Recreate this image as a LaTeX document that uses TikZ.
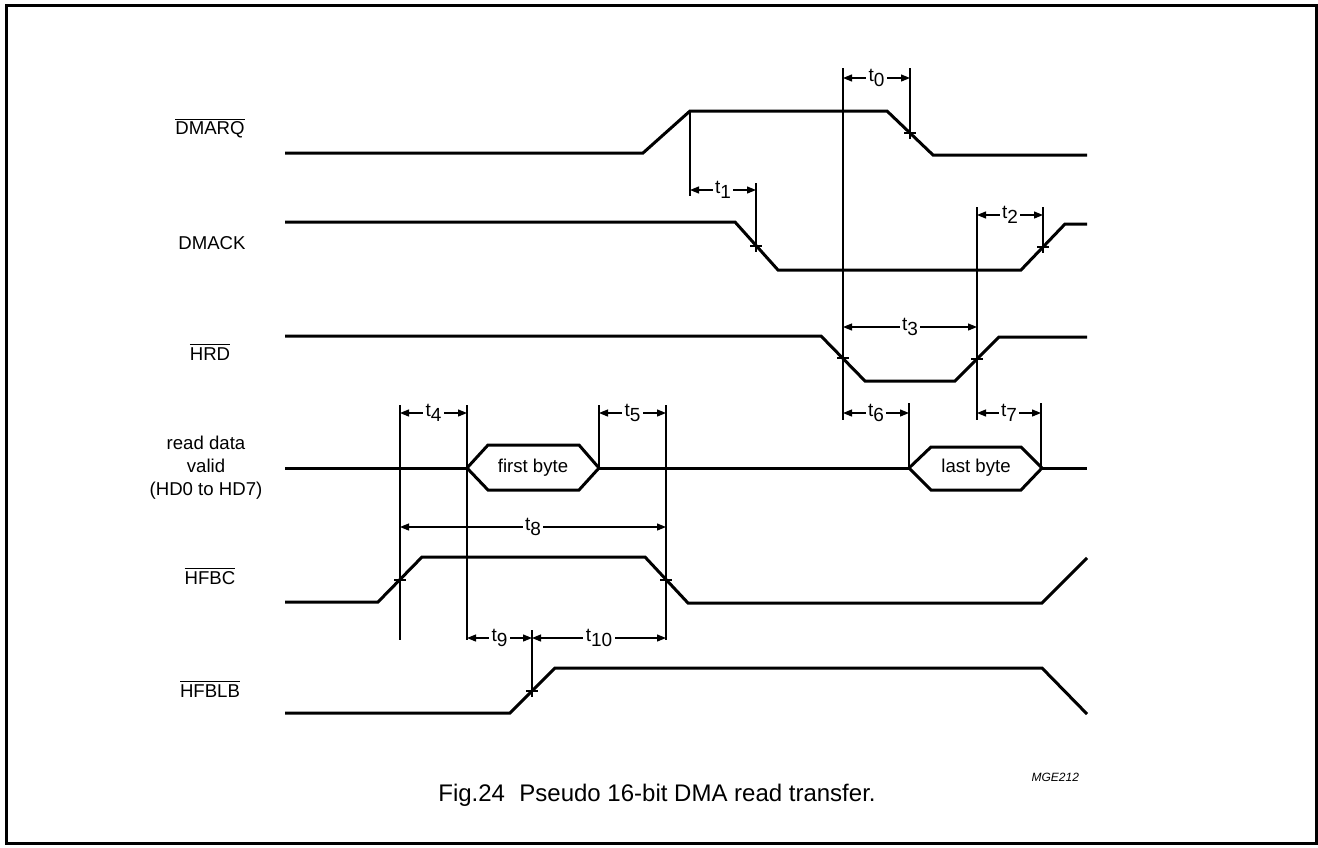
\documentclass[tikz,border=0pt]{standalone}
\usepackage{fontspec}
\setmainfont{Liberation Sans}
\usetikzlibrary{arrows.meta}

\newcommand{\tsub}[1]{t\raisebox{-0.5ex}{#1}}
\newcommand{\crossat}[1]{\draw[guide] ([xshift=-3pt]#1) -- ([xshift=3pt]#1);}

\begin{document}
\begin{tikzpicture}[x=0.5pt,y=-0.5pt,
	sig/.style={line width=1.5pt},
	guide/.style={line width=0.6pt},
	dim/.style={line width=0.6pt,{Triangle[length=4.5pt,width=3.5pt]}-{Triangle[length=4.5pt,width=3.5pt]}},
	tlab/.style={fill=white,inner sep=1.2pt,font=\fontsize{9.5}{11}\selectfont},
	sname/.style={font=\fontsize{9.3}{11.5}\selectfont,align=center}]
			\useasboundingbox (0,0) rectangle (1318,847);
			\draw[line width=1.5pt] (6,5) rectangle (1316,843);
			% signal names
			\node[sname] (lDMARQ) at (210,128) {$\overline{\mbox{DMARQ}}$};
			\node[sname] (lDMACK) at (212,243) {DMACK};
			\node[sname] (lHRD) at (210,352) {$\overline{\mbox{HRD}}$};
			\node[sname] (lDATA) at (206,468) {read data\\valid\\(HD0 to HD7)};
			\node[sname] (lHFBC) at (210,576) {$\overline{\mbox{HFBC}}$};
			\node[sname] (lHFBLB) at (210,689) {$\overline{\mbox{HFBLB}}$};
			% waveforms
			\draw[sig] (285,153) -- (643,153) -- (690,111) -- (887,111) -- (933,155) -- (1087,155);
			\draw[sig] (285,222) -- (735,222) -- (778,270) -- (1021,270) -- (1065,224) -- (1087,224);
			\draw[sig] (285,336) -- (821,336) -- (865,381) -- (955,381) -- (999,337) -- (1087,337);
			\draw[sig] (285,468) -- (467,468);
			\draw[sig] (467,468) -- (488,445) -- (579,445) -- (599,468) -- (579,490) -- (488,490) -- cycle;
			\node (first) at (533,468) {\fontsize{9.3}{11}\selectfont first byte};
			\draw[sig] (599,468) -- (909,468);
			\draw[sig] (909,468) -- (931,447) -- (1021,447) -- (1042,468) -- (1021,490) -- (931,490) -- cycle;
			\node (last) at (976,468) {\fontsize{9.3}{11}\selectfont last byte};
			\draw[sig] (1042,468) -- (1087,468);
			\draw[sig] (285,602) -- (378,602) -- (422,557) -- (645,557) -- (688,603) -- (1042,603) -- (1087,558);
			\draw[sig] (285,713) -- (510,713) -- (555,668) -- (1042,668) -- (1087,714);
			% crossing points
			\coordinate (q0) at (910,133);
			\coordinate (k1) at (756,246);
			\coordinate (k2) at (1043,247);
			\coordinate (r1) at (843,358);
			\coordinate (r2) at (977,359);
			\coordinate (c1) at (400,580);
			\coordinate (c2) at (666,580);
			\coordinate (b1) at (532,691);
			\crossat{q0} \crossat{k1} \crossat{k2} \crossat{r1}
			\crossat{r2} \crossat{c1} \crossat{c2} \crossat{b1}
			% guide lines
			\draw[guide] (843,68) -- (843,420);
			\draw[guide] (910,68) -- ([yshift=-3pt]q0);
			\draw[guide] (690,111) -- (690,196);
			\draw[guide] (756,183) -- ([yshift=-3pt]k1);
			\draw[guide] (977,207) -- (977,420);
			\draw[guide] (1043,207) -- ([yshift=-3pt]k2);
			\draw[guide] (909,403) -- (909,468);
			\draw[guide] (1041,403) -- (1041,466);
			\draw[guide] (400,405) -- (400,640);
			\draw[guide] (467,405) -- (467,640);
			\draw[guide] (599,405) -- (599,468);
			\draw[guide] (666,405) -- (666,640);
			\draw[guide] (532,630) -- ([yshift=-3pt]b1);
			% timing arrows
			\draw[dim] (843,78) -- node[tlab] (t0) {\tsub{0}} (910,78);
			\draw[dim] (690,190) -- node[tlab] (t1) {\tsub{1}} (756,190);
			\draw[dim] (977,215) -- node[tlab] (t2) {\tsub{2}} (1043,215);
			\draw[dim] (843,327) -- node[tlab] (t3) {\tsub{3}} (977,327);
			\draw[dim] (400,413) -- node[tlab] (t4) {\tsub{4}} (467,413);
			\draw[dim] (599,413) -- node[tlab] (t5) {\tsub{5}} (666,413);
			\draw[dim] (843,413) -- node[tlab] (t6) {\tsub{6}} (909,413);
			\draw[dim] (977,413) -- node[tlab] (t7) {\tsub{7}} (1041,413);
			\draw[dim] (400,527) -- node[tlab] (t8) {\tsub{8}} (666,527);
			\draw[dim] (467,638) -- node[tlab] (t9) {\tsub{9}} (532,638);
			\draw[dim] (532,638) -- node[tlab] (t10) {\tsub{10}} (666,638);
			% captions
			\node[anchor=east,font=\fontsize{6}{7}\selectfont\itshape] (code) at (1086,777) {MGE212};
			\node[font=\fontsize{12}{14}\selectfont] (caption) at (657,795) {Fig.24\hspace{0.6em}Pseudo 16-bit DMA read transfer.};
\end{tikzpicture}
\end{document}
